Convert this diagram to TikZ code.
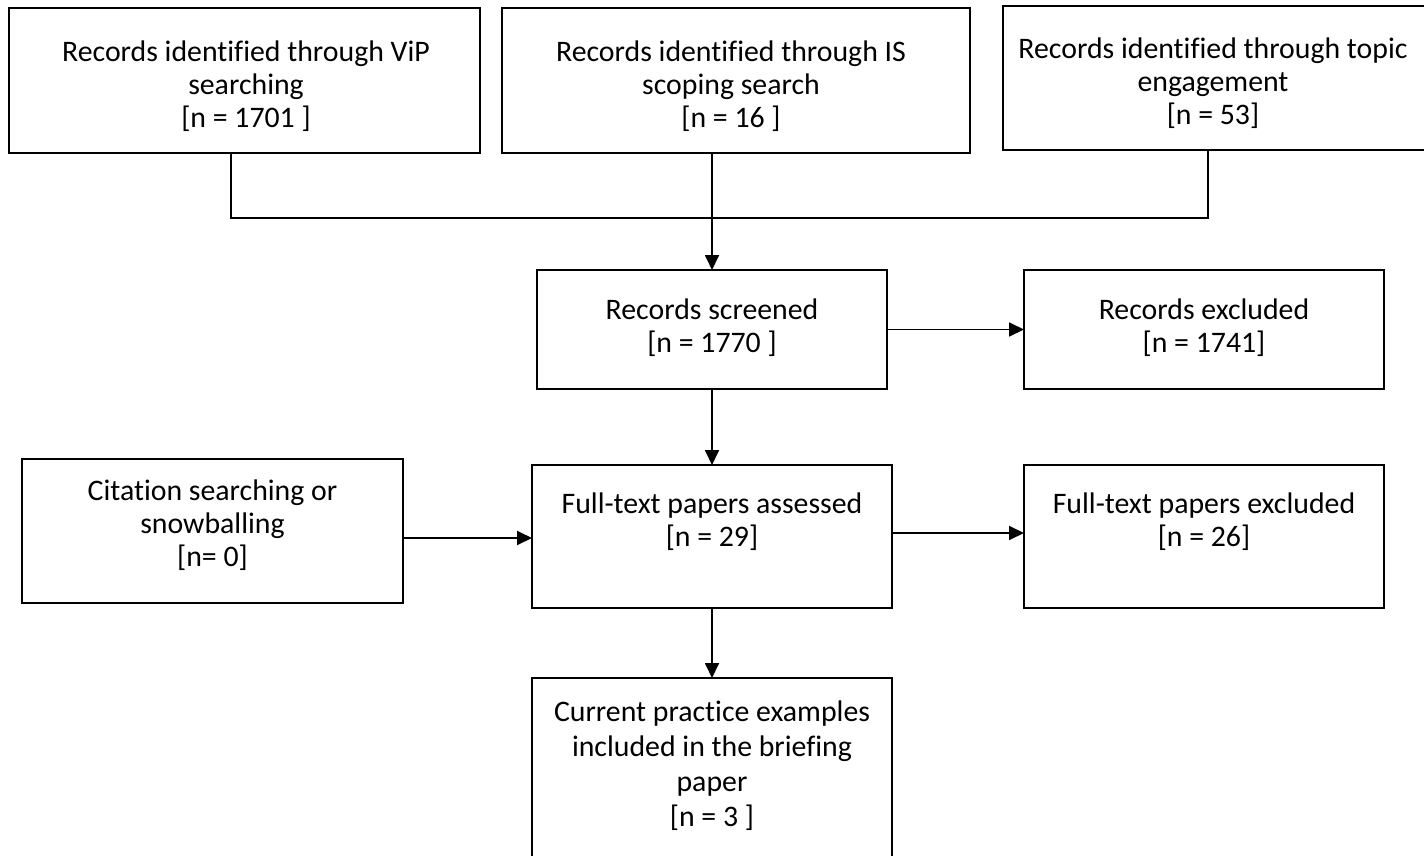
\documentclass[tikz,border=0pt]{standalone}
\usepackage{fontspec}
\setmainfont{Carlito}[Ligatures=NoCommon]
\usetikzlibrary{arrows.meta}
\begin{document}
\begin{tikzpicture}[x=1pt,y=-1pt,
  box/.style={draw, line width=1.8pt, inner sep=0pt, outer sep=0pt},
  txt/.style={anchor=north, inner sep=0pt, align=center, font=\fontsize{29.8}{33}\selectfont},
  conn/.style={line width=1.8pt},
  arr/.style={line width=1.8pt, -{Triangle[length=15pt,width=14pt]}}]
\useasboundingbox (0,0) rectangle (1424,856);
% boxes
\node[box, minimum width=471pt, minimum height=145pt] (b1) at (244.5,80.5) {};
\node[box, minimum width=468pt, minimum height=145pt] (b2) at (736,80.5) {};
\node[box, minimum width=422pt, minimum height=144pt] (b3) at (1214,78) {};
\node[box, minimum width=350pt, minimum height=119pt] (s) at (712,329.5) {};
\node[box, minimum width=360pt, minimum height=119pt] (e) at (1204,329.5) {};
\node[box, minimum width=381pt, minimum height=144pt] (c) at (212.5,531) {};
\node[box, minimum width=360pt, minimum height=143pt] (a) at (712,536.5) {};
\node[box, minimum width=360pt, minimum height=143pt] (f) at (1204,536.5) {};
\node[box, minimum width=360pt, minimum height=192pt] (p) at (712,774) {};
% texts
\node[txt] (t1) at (246,38.5) {\strut Records identified through ViP\\searching\\{}[n = 1701 ]};
\node[txt] (t2) at (731,38.5) {\strut Records identified through IS\\scoping search\\{}[n = 16 ]};
\node[txt] (t3) at (1213,35) {\strut Records identified through topic\\engagement\\{}[n = 53]};
\node[txt] (ts) at (712,296) {\strut Records screened\\{}[n = 1770 ]};
\node[txt] (te) at (1204,296) {\strut Records excluded\\{}[n = 1741]};
\node[txt] (tc) at (212.5,477) {\strut Citation searching or\\snowballing\\{}[n= 0]};
\node[txt] (ta) at (712,490) {\strut Full-text papers assessed\\{}[n = 29]};
\node[txt] (tf) at (1204,490) {\strut Full-text papers excluded\\{}[n = 26]};
\node[txt, font=\fontsize{29.8}{35}\selectfont] (tp) at (712,697) {\strut Current practice examples\\included in the briefing\\paper\\{}[n = 3 ]};
% connectors
\coordinate (j1) at (231,218);
\coordinate (j3) at (1208,218);
\coordinate (ya) at (0,538);
\coordinate (yf) at (0,533);
\draw[conn] (b1.south -| j1) -- (j1) -- (j3) -- (b3.south -| j3);
\draw[arr] (b2.south -| s.north) -- (s.north);
\draw[arr] (s.east) -- (e.west);
\draw[arr] (s.south) -- (a.north);
\draw[arr] (c.east |- ya) -- (a.west |- ya);
\draw[arr] (a.east |- yf) -- (f.west |- yf);
\draw[arr] (a.south) -- (p.north);
\end{tikzpicture}
\end{document}
